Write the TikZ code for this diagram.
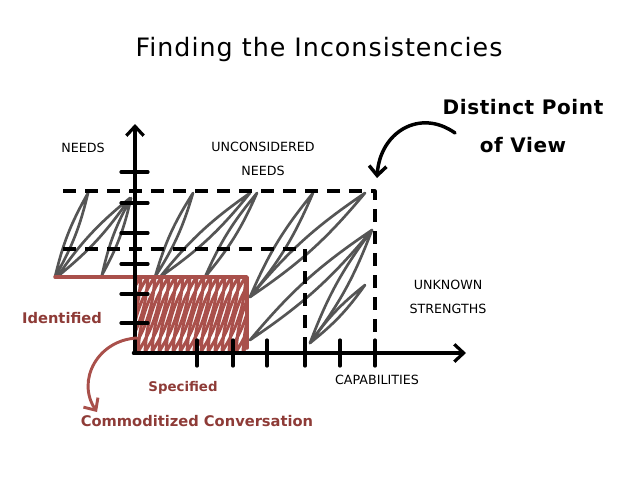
\documentclass[tikz,border=0pt]{standalone}
\usepackage{fontspec}
\setmainfont{DejaVu Sans}
\usetikzlibrary{arrows.meta}
\definecolor{inkred}{HTML}{A9504B}
\definecolor{labelred}{HTML}{8E3B37}
\definecolor{scribgray}{HTML}{555555}
\tikzset{
  axis/.style={line width=2.4pt, ->},
  tickmark/.style={line width=2.4pt},
  guide/.style={line width=2.4pt, line cap=butt, dash pattern=on 9.5pt off 7pt},
  scribble/.style={scribgray, line width=2pt},
  redhatch/.style={inkred, line width=2.3pt},
  redline/.style={inkred, line width=2.6pt},
  capslabel/.style={font=\fontsize{9.5}{18}\selectfont, align=center},
  redlabel/.style={labelred, font=\bfseries\fontsize{10}{12}\selectfont}
}
\begin{document}
\begin{tikzpicture}[x=0.75pt, y=-0.75pt, line join=round, line cap=round, >={Straight Barb[length=7pt,width=13pt]}]
\useasboundingbox (0,0) rectangle (638,479);
\coordinate (o) at (135,353);
\coordinate (ytip) at (135,124);
\coordinate (xtip) at (466,353);
\coordinate (topleft) at (63,191);
\coordinate (topright) at (375,191);
\coordinate (midleft) at (63,249);
\coordinate (midright) at (305,249);
\coordinate (redstart) at (55,277);
\coordinate (redcorner) at (247,277);
\coordinate (redend) at (247,348);
% gray scribble
\foreach \bx/\by/\tx/\ty in {55/277/88/193, 57/277/130/198, 102/275/131/198, 155/277/193/193,
  160/277/250/193, 205/277/257/193, 250/297/313/193, 250/297/365/193, 250/340/372/230,
  310/343/372/230, 310/343/365/285}
  \draw[scribble] (\bx,\by) to[bend left=8] (\tx,\ty) to[bend left=8] (\bx,\by);
% red hatch
\begin{scope}
\clip (135,277) rectangle (247,350);
\foreach \x in {110,117,...,260}
  \draw[redhatch] (\x,352) to[bend left=14] (\x+24,276) to[bend left=14] (\x,352);
\end{scope}
\draw[redline] (redstart) -- (redcorner) -- (redend);
% guides
\draw[guide] (topleft) -- (topright) -- (topright |- o);
\draw[guide] (midleft) -- (midright) -- (midright |- o);
% axes
\draw[axis] (o) -- (ytip);
\draw[axis] ([xshift=-1.2pt]o) -- (xtip);
\foreach \y in {172,203,233,264,294,323}
  \draw[tickmark] (121,\y) -- (148,\y);
\foreach \x in {197,233,267,305,340,375}
  \draw[tickmark] (\x,340) -- (\x,366);
% labels
\node (title) at (319,50) {\fontsize{19}{22}\selectfont\addfontfeature{LetterSpace=4}Finding the Inconsistencies};
\node[capslabel] (needs) at (83,148) {NEEDS};
\node[capslabel] (uneeds) at (263,159) {UNCONSIDERED\\NEEDS};
\node[capslabel] (unknown) at (448,297) {UNKNOWN\\STRENGTHS};
\node[capslabel] (capab) at (377,380) {CAPABILITIES};
\node[font=\bfseries\fontsize{15}{28.5}\selectfont, align=center] (dpv) at (523,126) {\addfontfeature{LetterSpace=3}Distinct Point\\\addfontfeature{LetterSpace=3}of View};
\node[redlabel, font=\bfseries\fontsize{11}{13}\selectfont] (ident) at (62,318) {Identified};
\node[redlabel] (specif) at (183,388) {Specified};
\node[redlabel, font=\bfseries\fontsize{11}{13}\selectfont] (commod) at (197,421) {Commoditized Conversation};
% arrows
\coordinate (dpvfrom) at (455,133);
\coordinate (dpvto) at (377,178);
\draw[->, line width=2.6pt] (dpvfrom) .. controls (420,108) and (380,132) .. (dpvto);
\coordinate (cfrom) at (137,338);
\coordinate (cto) at (97,412);
\draw[->, inkred, line width=2.2pt] (cfrom) .. controls (98,340) and (76,380) .. (cto);
\end{tikzpicture}
\end{document}
